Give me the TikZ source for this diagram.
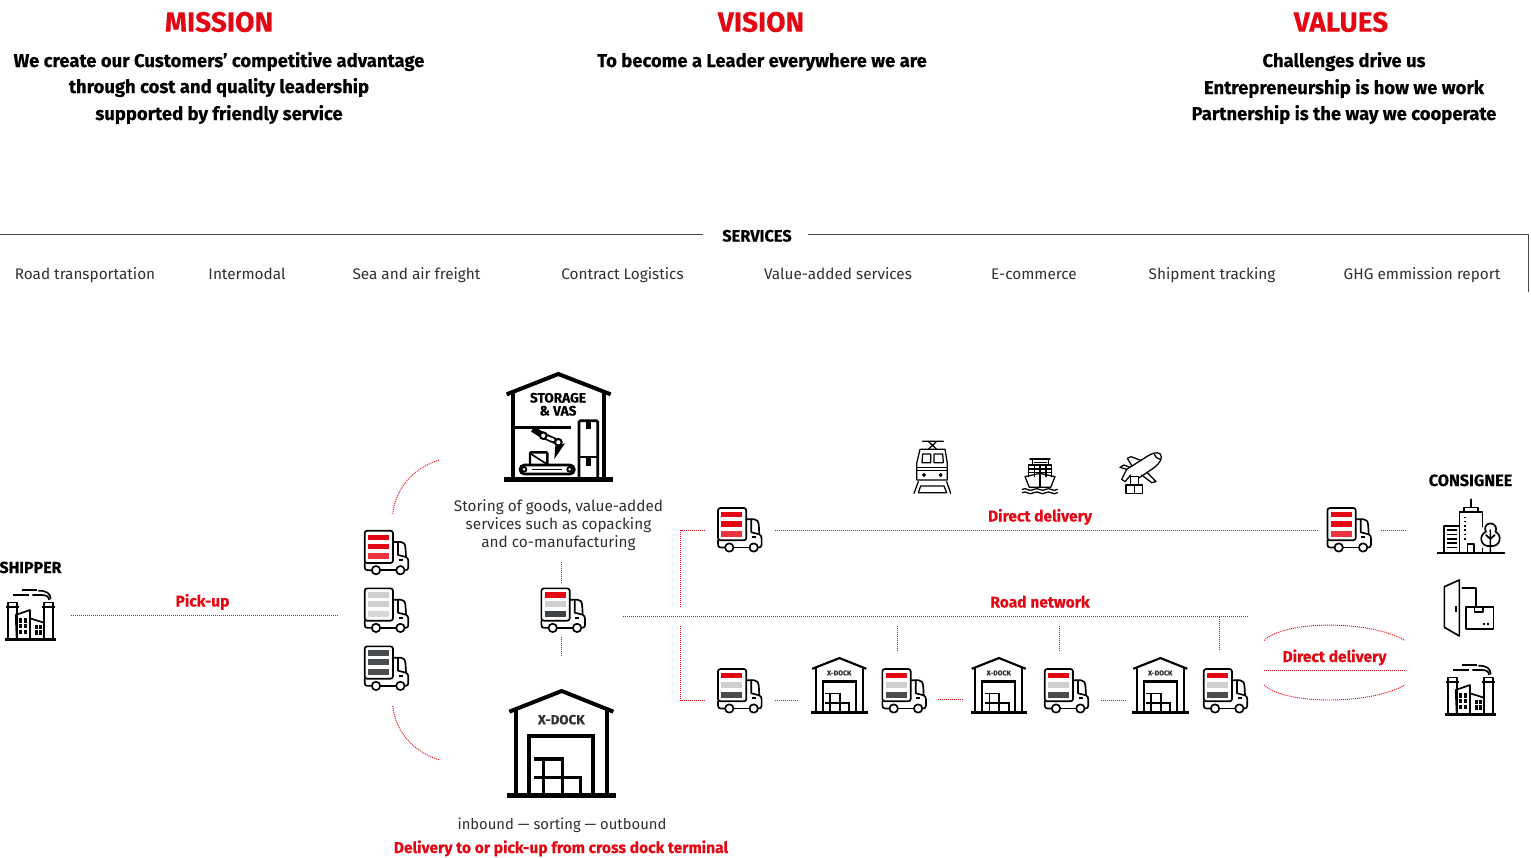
\documentclass[tikz,border=0pt]{standalone}
\usepackage{fontspec}
\setmainfont{Fira Sans}[BoldFeatures={FakeBold=0.25}]
\definecolor{brandred}{HTML}{E30613}
\definecolor{lightred}{HTML}{EE3340}
\definecolor{midgrey}{HTML}{CFCFCF}
\definecolor{darkgrey}{HTML}{4A4D50}
\definecolor{bodygrey}{HTML}{303030}
\tikzset{
  link/.style={draw=brandred,line width=.7pt,dash pattern=on .75pt off .75pt},
  heading/.style={anchor=base,inner sep=0,text=brandred,font=\fontsize{21}{21}\selectfont\bfseries},
  lead/.style={anchor=base,inner sep=0,text=black,font=\fontsize{13.85}{13.85}\selectfont\bfseries},
  svc/.style={anchor=base,inner sep=0,text=bodygrey,font=\fontsize{11.5}{11.5}\selectfont},
  redlabel/.style={anchor=base,inner sep=0,text=brandred,font=\fontsize{11.7}{11.7}\selectfont\bfseries},
  blacklabel/.style={anchor=base,inner sep=0,text=black,font=\fontsize{12}{12}\selectfont\bfseries},
  ico/.style={draw=black,line width=1.25pt,line cap=round,line join=round},
  hair/.style={draw=black!70,line width=.65pt},
}
% truck: #1 x, #2 y (top-left), #3 #4 #5 stripe colours
\newcommand{\truckicon}[5]{%
\begin{scope}[shift={(#1,#2)}]
  \fill[#3] (4,4.6) rectangle (25,10);
  \fill[#4] (4,13.6) rectangle (25,19.3);
  \fill[#5] (4,23.3) rectangle (25,29.3);
  \draw[ico,rounded corners=1.8pt] (.7,33) -- (.7,.7) -- (29,.7) -- (29,33) -- cycle;
  \draw[ico] (29,12) -- (37,12) .. controls (40,12) and (41,14) .. (41.5,18) -- (42,27) .. controls (43.5,28) and (44.3,29) .. (44.3,31) -- (44.3,37.5) .. controls (44.3,39.5) and (43,40.2) .. (41,40.2);
  \draw[ico] (34,12) -- (34,25) -- (42,27);
  \draw[ico,line width=1.3pt,line cap=butt] (34.5,30) -- (38.5,30);
  \draw[ico] (.7,33) -- (.7,37) .. controls (.7,39.2) and (1.5,40.2) .. (3.5,40.2) -- (7.5,40.2);
  \draw[ico] (16.5,40.2) -- (32,40.2);
  \draw[ico] (12,40.2) circle[radius=4.2];
  \draw[ico] (36.4,40.2) circle[radius=4.2];
\end{scope}}
% x-dock, drawn in zoom units
\newcommand{\xdockicon}[6]{%
\begin{scope}[shift={(#1,#2)},x=#3pt,y=-#3pt]
  \draw[black,line width=#4pt,line join=miter] (508,455) -- (665,393) -- (820,455);
  \draw[black,line width=#4pt] (528,450) -- (528,706) (800,450) -- (800,706);
  \draw[black,line width=#4pt] (568,706) -- (568,528) -- (760,528) -- (760,706);
  \draw[black,line width=#5pt] (583,597) -- (667,597) -- (667,706) (610,597) -- (610,706) (583,652) -- (722,652) -- (722,706);
  \fill[black] (501,699) rectangle (828,714);
  \node[inner sep=0,font=\fontsize{#6}{#6}\selectfont\bfseries,text=bodygrey] at (664,479) {X-DOCK};
\end{scope}}
% factory, zoom units, shipper origin
\newcommand{\factoryicon}[2]{%
\begin{scope}[shift={(#1,#2)},x=.25pt,y=-.25pt]
  \draw[ico] (24,265) -- (24,157) -- (50,157) -- (50,265);
  \draw[ico] (132,265) -- (132,157) -- (158,157) -- (158,265);
  \draw[ico,line width=1.6pt,line cap=butt] (18,172) -- (57,172) (125,172) -- (165,172);
  \draw[ico] (50,265) -- (47,195) -- (90,180) -- (90,265);
  \draw[ico] (90,205) -- (132,218);
  \foreach \wx in {57,71} \foreach \wy in {205,222,239} \fill[black] (\wx,\wy) rectangle ++(10,13);
  \foreach \wx in {105,117} \foreach \wy in {224,241} \fill[black] (\wx,\wy) rectangle ++(9,13);
  \draw[ico,line width=1.6pt,line cap=butt] (40,135) -- (88,135) (65,120) -- (110,120);
  \draw[ico,line cap=butt] (97,135) -- (125,135) .. controls (140,135) and (147,140) .. (147,150);
  \draw[ico,line cap=butt] (115,122) .. controls (140,122) and (152,130) .. (152,148);
  \fill[black] (15,264) rectangle (168,273);
\end{scope}}
\begin{document}
\begin{tikzpicture}[x=.75pt,y=-.75pt]
\useasboundingbox (0,0) rectangle (1531,857);

% ---- top
\node[heading] (mission) at (219,31.7) {MISSION};
\node[heading] (vision) at (761,31.7) {VISION};
\node[heading] (values) at (1341,31.7) {VALUES};
\node[lead] (m1) at (219,67) {We create our Customers’ competitive advantage};
\node[lead] (m2) at (219,93) {through cost and quality leadership};
\node[lead] (m3) at (219,120) {supported by friendly service};
\node[lead] (v1) at (762,67) {To become a Leader everywhere we are};
\node[lead] (w1) at (1344,67) {Challenges drive us};
\node[lead] (w2) at (1344,94) {Entrepreneurship is how we work};
\node[lead] (w3) at (1344,120) {Partnership is the way we cooperate};

% ---- services
\node[blacklabel,font=\fontsize{12.3}{12.3}\selectfont\bfseries] (services) at (757,241.5) {SERVICES};
\coordinate (sl0) at (0,234); \coordinate (sl1) at (703,234);
\coordinate (sr0) at (808,234); \coordinate (sr1) at (1528.5,234); \coordinate (sr2) at (1528.5,292);
\draw[hair] (sl0) -- (sl1);
\draw[hair] (sr0) -- (sr1) -- (sr2);
\node[svc] (s1) at (85,279) {Road transportation};
\node[svc] (s2) at (247,279) {Intermodal};
\node[svc] (s3) at (416.5,279) {Sea and air freight};
\node[svc] (s4) at (622.5,279) {Contract Logistics};
\node[svc] (s5) at (838,279) {Value-added services};
\node[svc] (s6) at (1034,279) {E-commerce};
\node[svc] (s7) at (1212,279) {Shipment tracking};
\node[svc] (s8) at (1422,279) {GHG emmission report};

% ---- shipper
\node[blacklabel] (shipper) at (30.5,573) {SHIPPER};
\factoryicon{0}{550}
\node[redlabel] (pickup) at (202.5,606.5) {Pick-up};
\coordinate (p0) at (71,615.5); \coordinate (p1) at (338,615.5);
\draw[link] (p0) -- (p1);

% ---- left trucks
\truckicon{364}{530}{brandred}{brandred}{lightred}
\truckicon{364}{587.7}{midgrey}{midgrey}{midgrey!80!white}
\truckicon{364}{645.7}{darkgrey}{darkgrey}{darkgrey}
\coordinate (a0) at (392.7,513.7); \coordinate (a1) at (439,460);
\coordinate (b0) at (392.7,706); \coordinate (b1) at (439,759.7);
\draw[link] (a0) .. controls (396,487) and (414,468) .. (a1);
\draw[link] (b0) .. controls (396,733) and (414,752) .. (b1);

% ---- storage icon
\begin{scope}[shift={(340,360)},x=.25pt,y=-.25pt]
  \draw[black,line width=3pt,line join=miter] (500,103) -- (655,42) -- (812,103);
  \draw[black,line width=3pt] (520,100) -- (520,358) (793,100) -- (793,358);
  \draw[black,line width=1.8pt] (525,203) -- (692,203);
  \draw[black,line width=2pt,rounded corners=1pt] (717,358) -- (717,182) -- (773,182) -- (773,358);
  \draw[black,line width=1.3pt] (717,290) -- (773,290);
  \fill[black] (737,182) rectangle (753,208);
  \fill[black] (737,292) rectangle (753,318);
  \draw[black,line width=4.6pt,line join=round] (578,207) -- (610,227) -- (655,247);
  \draw[white,line width=2pt,line cap=round] (620,232) -- (640,240);
  \fill[white,draw=black,line width=1.5pt] (610,227) circle[radius=10];
  \fill[white,draw=black,line width=1.5pt] (655,247) circle[radius=10];
  \fill[black] (646,258) -- (675,250) -- (643,297) -- cycle;
  \draw[black,line width=1.8pt,rounded corners=.8pt] (570,315) -- (570,277) -- (622,277) -- (622,315);
  \draw[black,line width=1.2pt] (570,280) -- (622,313);
  \draw[black,line width=2pt,rounded corners=3.3pt] (540,315) rectangle (703,342);
  \draw[black,line width=1.1pt] (575,328) -- (665,328);
  \fill[white,draw=black,line width=1.4pt] (552,328) circle[radius=7];
  \fill[white,draw=black,line width=1.4pt] (689,328) circle[radius=7];
  \fill[black] (492,351) rectangle (818,366);
\end{scope}
\node[anchor=base,inner sep=0,font=\fontsize{10.2}{10.2}\selectfont\bfseries] (stor1) at (558,402.5) {STORAGE};
\node[anchor=base,inner sep=0,font=\fontsize{10.2}{10.2}\selectfont\bfseries] (stor2) at (558,415.5) {\&\ VAS};
\node[svc] (st1) at (558.5,511) {Storing of goods, value-added};
\node[svc] (st2) at (558.5,529) {services such as copacking};
\node[svc] (st3) at (558.5,547) {and co-manufacturing};

% ---- center
\truckicon{540.7}{587.7}{brandred}{midgrey}{darkgrey!85!black}
\coordinate (c0) at (561.3,562); \coordinate (c1) at (561.3,582.5);
\coordinate (c2) at (561.3,637.3); \coordinate (c3) at (561.3,657.3);
\draw[link] (c0) -- (c1);
\draw[link] (c2) -- (c3);
\xdockicon{340}{560}{.25}{3}{2.5}{10}
\node[svc,font=\fontsize{11.1}{11.1}\selectfont] (xd1) at (562,829) {inbound — sorting — outbound};
\node[redlabel] (xd2) at (561,853) {Delivery to or pick-up from cross dock terminal};

% ---- direct delivery row
\truckicon{717.3}{507.3}{brandred}{brandred}{lightred}
\truckicon{1326.7}{507.3}{brandred}{brandred}{lightred}
\coordinate (d0) at (705,530.3); \coordinate (d1) at (680.5,530.3); \coordinate (d2) at (680.5,607.5);
\coordinate (e0) at (775,530.3); \coordinate (e1) at (1318,530.3);
\coordinate (e2) at (1381,530.3); \coordinate (e3) at (1406,530.3);
\draw[link] (d0) -- (d1) -- (d2);
\draw[link] (e0) -- (e1);
\draw[link] (e2) -- (e3);
\node[redlabel] (dd1) at (1040,521.5) {Direct delivery};

% ---- train
\begin{scope}[shift={(900,430)},x=.25pt,y=-.25pt,every path/.style={ico,line width=.95pt}]
  \draw (68,34) -- (130,34) (85,34) -- (110,58) (110,34) -- (85,58);
  \draw (60,58) -- (135,58) -- (142,100) -- (142,150) -- (50,150) -- (50,100) -- cycle;
  \draw (68,72) -- (92,72) -- (92,98) -- (66,98) -- cycle (102,72) -- (128,72) -- (130,98) -- (102,98) -- cycle;
  \draw (50,112) -- (142,112) (50,122) -- (142,122);
  \draw (72,135) circle[radius=4] (122,135) circle[radius=4];
  \draw (55,155) -- (42,190) (140,155) -- (152,190);
  \draw (62,168) -- (132,168) (55,188) -- (140,188) (62,168) -- (55,188) (132,168) -- (140,188);
\end{scope}
% ---- ship
\begin{scope}[shift={(900,430)},x=.25pt,y=-.25pt,every path/.style={ico,line width=.95pt}]
  \draw[line width=1.1pt] (390,87) -- (450,87);
  \draw (398,87) -- (398,105) (445,87) -- (445,105) (403,97) -- (440,97);
  \draw (385,140) -- (385,105) -- (455,105) -- (455,140);
  \draw (385,117) -- (455,117) (385,128) -- (455,128) (403,105) -- (403,140) (420,105) -- (420,140) (438,105) -- (438,140);
  \draw (375,140) -- (420,130) -- (465,140) -- (452,172) -- (388,172) -- cycle;
  \draw (420,130) -- (420,172);
  \draw (367,178) .. controls (380,170) and (385,188) .. (402,178) .. controls (415,170) and (425,188) .. (437,178) .. controls (450,170) and (460,188) .. (472,178);
  \draw (367,188) .. controls (380,180) and (385,198) .. (402,188) .. controls (415,180) and (425,198) .. (437,188) .. controls (450,180) and (460,198) .. (472,188);
\end{scope}
% ---- plane
\begin{scope}[shift={(900,430)},x=.25pt,y=-.25pt,every path/.style={ico,line width=.95pt}]
  \draw (680,118) -- (748,75) .. controls (765,65) and (785,65) .. (784,82) .. controls (783,95) and (770,108) .. (755,118) -- (715,145);
  \draw (696,108) -- (682,85) -- (693,80) -- (725,92);
  \draw (742,128) -- (768,155) -- (755,158) -- (725,135);
  \draw (680,118) -- (660,112) -- (672,105) -- (690,112);
  \draw (680,118) -- (665,148) -- (675,155) -- (692,135);
  \draw (762,72) .. controls (765,80) and (770,85) .. (782,88);
  \draw (692,140) rectangle (715,165);
  \draw (678,165) rectangle (703,190);
  \draw (703,165) rectangle (728,190);
\end{scope}

% ---- road network
\coordinate (r0) at (623,616.5); \coordinate (r1) at (1249,616.5);
\draw[link] (r0) -- (r1);
\node[redlabel] (rn) at (1040,607.5) {Road network};
\coordinate (f0) at (680.5,626); \coordinate (f1) at (680.5,700.3); \coordinate (f2) at (705,700.3);
\draw[link] (f0) -- (f1) -- (f2);
\truckicon{717.3}{668.3}{brandred}{midgrey}{darkgrey}
\truckicon{881.7}{668.3}{brandred}{midgrey}{darkgrey}
\truckicon{1044}{668.3}{brandred}{midgrey}{darkgrey}
\truckicon{1203}{668.3}{brandred}{midgrey}{darkgrey}
\xdockicon{724.16}{589.93}{.13}{1.6}{1.35}{5.2}
\xdockicon{883.66}{589.93}{.13}{1.6}{1.35}{5.2}
\xdockicon{1045.16}{589.93}{.13}{1.6}{1.35}{5.2}
\coordinate (g0) at (775,700.3); \coordinate (g1) at (799,700.3);
\coordinate (g2) at (938,699.3); \coordinate (g3) at (963,699.3);
\coordinate (g4) at (1101,700); \coordinate (g5) at (1126,700);
\draw[link] (g0) -- (g1);
\draw[link] (g2) -- (g3);
\draw[link] (g4) -- (g5);
\coordinate (h0) at (897.3,626); \coordinate (h1) at (897.3,650.7);
\coordinate (h2) at (1059,626); \coordinate (h3) at (1059,650.7);
\coordinate (h4) at (1219,617); \coordinate (h5) at (1219,650.7);
\draw[link] (h0) -- (h1);
\draw[link] (h2) -- (h3);
\draw[link] (h4) -- (h5);

% ---- right direct delivery
\node[redlabel] (dd2) at (1334.5,662) {Direct delivery};
\coordinate (k0) at (1264,640.5); \coordinate (k1) at (1405,640.5);
\coordinate (k2) at (1264,670); \coordinate (k3) at (1405,670);
\coordinate (k4) at (1264,685); \coordinate (k5) at (1405,685);
\draw[link] (k0) .. controls (1285,620) and (1370,620) .. (k1);
\draw[link] (k2) -- (k3);
\draw[link] (k4) .. controls (1285,705) and (1370,705) .. (k5);

% ---- consignee
\node[blacklabel,font=\fontsize{12.2}{12.2}\selectfont\bfseries] (consignee) at (1470.5,486) {CONSIGNEE};
\begin{scope}[shift={(1310,470)},x=.25pt,y=-.25pt]
  \draw[ico] (482,88) -- (482,112);
  \draw[ico] (462,122) -- (462,112) -- (503,112) -- (503,122);
  \draw[ico] (448,248) -- (448,125) -- (517,125) -- (517,170);
  \foreach \dy in {140,152,165,178,191,205} \fill[black] (463,\dy) rectangle ++(5,5);
  \draw[ico] (472,248) -- (472,222) -- (492,222) -- (492,248);
  \draw[ico] (402,248) -- (402,168) -- (448,168);
  \foreach \ly in {180,193,206,219,232} \draw[ico,line cap=butt] (412,\ly) -- (440,\ly);
  \draw[ico] (517,235) -- (517,248);
  \draw[ico] (541,160) .. controls (525,160) and (522,180) .. (528,185) .. controls (505,195) and (510,232) .. (541,228) .. controls (572,232) and (578,195) .. (556,185) .. controls (562,180) and (558,160) .. (541,160) -- cycle;
  \draw[ico] (541,180) -- (541,248) (528,195) -- (541,207) -- (554,195);
  \draw[ico,line width=1.4pt] (383,248) -- (583,248);
  % door and parcel
  \draw[ico] (403,350) -- (448,330) -- (448,498) -- (403,472) -- cycle;
  \draw[ico,line width=1.6pt,line cap=butt] (437,408) -- (437,425);
  \draw[ico] (457,353) -- (497,353) -- (497,408);
  \draw[ico] (467,410) rectangle (550,477);
  \draw[ico] (493,410) -- (493,425) -- (518,425) -- (518,410);
  \fill[black] (520,459) rectangle ++(6,6);
  \fill[black] (532,459) rectangle ++(6,6);
\end{scope}
\factoryicon{1440}{625}
\end{tikzpicture}
\end{document}
